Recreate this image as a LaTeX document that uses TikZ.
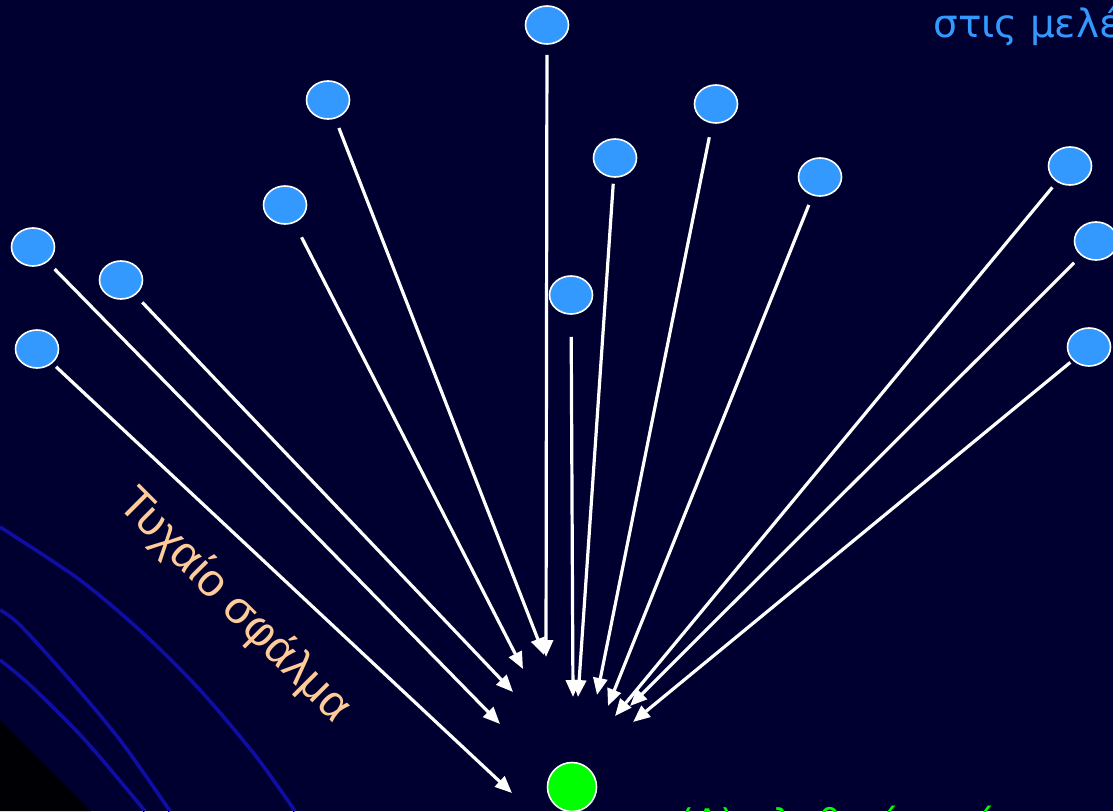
\documentclass[tikz,border=0pt]{standalone}
\usepackage{fontspec}
\newfontfamily\slidefont{DejaVu Sans}
\newfontfamily\notefont{Liberation Sans}
\usetikzlibrary{positioning,arrows.meta,shapes.geometric}
\definecolor{slidebg}{RGB}{0,0,48}
\definecolor{dotblue}{RGB}{51,153,255}
\definecolor{truegreen}{RGB}{0,255,0}
\definecolor{peach}{RGB}{255,204,153}
\definecolor{waveblue}{RGB}{14,14,165}

\begin{document}
\begin{tikzpicture}[x=1pt,y=-1pt,
dot/.style={ellipse,draw=white,line width=1.6pt,fill=dotblue,minimum width=43pt,minimum height=38pt,inner sep=0pt},
target/.style={circle,draw=white,line width=1.6pt,fill=truegreen,minimum size=49pt,inner sep=0pt},
arr/.style={-{Triangle[length=17pt,width=14pt]},white,line width=3.2pt,shorten <=10pt},
wave/.style={waveblue,line width=3.6pt}]
\useasboundingbox (0,0) rectangle (1113,811);
\fill[slidebg] (0,0) rectangle (1113,811);
\fill[black!92!slidebg] (0,720) -- (91,811) -- (0,811) -- cycle;
\draw[wave] plot[smooth] coordinates {(0,527) (80,580) (145,635) (200,690) (255,755) (295,811)};
\draw[wave] plot[smooth] coordinates {(0,610) (20,625) (70,680) (120,740) (170,811)};
\draw[wave] plot[smooth] coordinates {(0,660) (30,685) (85,740) (145,811)};
% measurements
\node[dot] (c1) at (547,25) {};
\node[dot] (c2) at (328,100) {};
\node[dot] (c3) at (716,104) {};
\node[dot] (c4) at (615,158) {};
\node[dot] (c5) at (820,177) {};
\node[dot] (c6) at (1070,166) {};
\node[dot] (c7) at (285,205) {};
\node[dot] (c8) at (33,247) {};
\node[dot] (c9) at (121,280) {};
\node[dot] (c10) at (1096,241) {};
\node[dot] (c11) at (571,295) {};
\node[dot] (c12) at (37,349) {};
\node[dot] (c13) at (1089,347) {};
\node[target] (true) at (572,787) {};
% arrow ends
\coordinate (t1) at (546,657);
\coordinate (t2) at (544,655);
\coordinate (t3) at (597,695);
\coordinate (t4) at (578,697);
\coordinate (t5) at (608,706);
\coordinate (t6) at (615,716);
\coordinate (t7) at (523,669);
\coordinate (t8) at (500,724);
\coordinate (t9) at (513,692);
\coordinate (t10) at (630,706);
\coordinate (t11) at (573,697);
\coordinate (t12) at (512,793);
\coordinate (t13) at (633,722);
\draw[arr] (c1) -- (t1);
\draw[arr] (c2) -- (t2);
\draw[arr,shorten <=14pt] (c3) -- (t3);
\draw[arr,shorten <=6pt] (c4) -- (t4);
\draw[arr] (c5) -- (t5);
\draw[arr,shorten <=7pt] (c6) -- (t6);
\draw[arr,shorten <=16pt] (c7) -- (t7);
\draw[arr] (c8) -- (t8);
\draw[arr] (c9) -- (t9);
\draw[arr] (c10) -- (t10);
\draw[arr,shorten <=22pt] (c11) -- (t11);
\draw[arr,shorten <=5pt] (c12) -- (t12);
\draw[arr,shorten <=3pt] (c13) -- (t13);
\node[rotate=-45,text=peach,font=\notefont\fontsize{46}{50}\selectfont] (random) at (234,606) {Τυχαίο σφάλμα};
\node[anchor=base west,text=dotblue,font=\slidefont\fontsize{39}{44}\selectfont] (title) at (930,37) {στις μελέτες};
\node[anchor=base west,text=truegreen,font=\slidefont\fontsize{38}{44}\selectfont] (truelabel) at (676,836) {(Α) αληθινή τιμή};
\end{tikzpicture}
\end{document}
